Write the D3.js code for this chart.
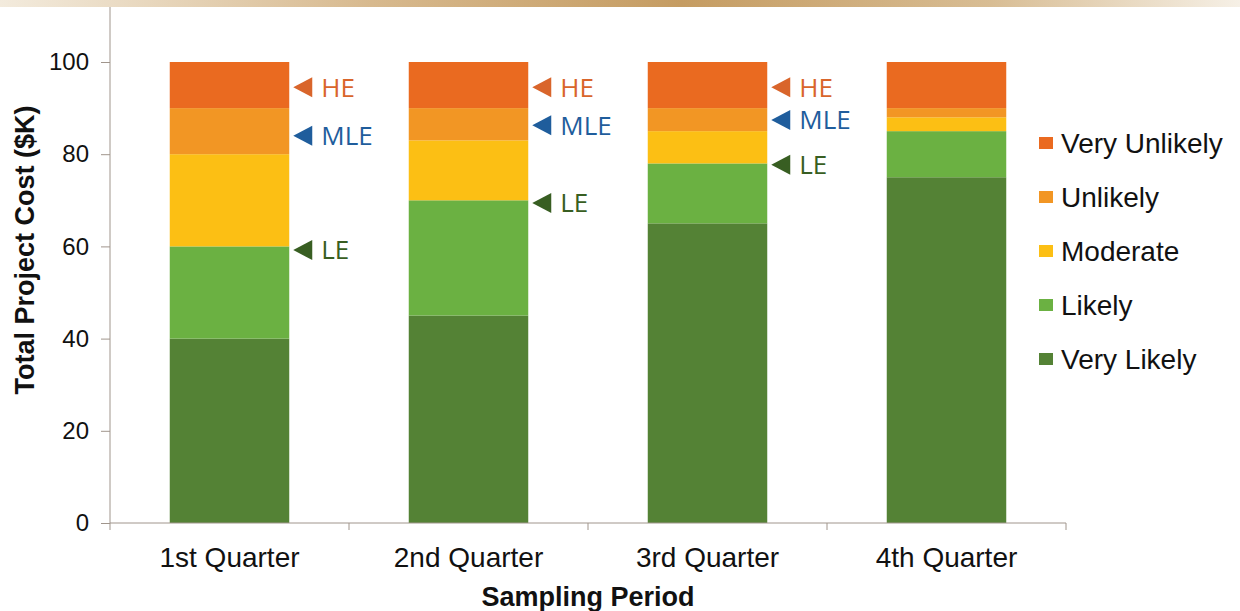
<!DOCTYPE html>
<html>
<head>
<meta charset="utf-8">
<script src="https://cdn.jsdelivr.net/npm/d3@7"></script>
<style>
  body { margin: 0; background: #fff; }
  svg { display: block; font-family: Arial, "Liberation Sans", sans-serif; }
</style>
</head>
<body>
<div id="graph"></div>
<script>
var width = 1240, height = 611

// data
var quarters = ['1st Quarter', '2nd Quarter', '3rd Quarter', '4th Quarter']
var levels = ['Very Likely', 'Likely', 'Moderate', 'Unlikely', 'Very Unlikely']
var veryLikely   = [40, 45, 65, 75]
var likely       = [20, 25, 13, 10]
var moderate     = [20, 13,  7,  3]
var unlikely     = [10,  7,  5,  2]
var veryUnlikely = [10, 10, 10, 10]
var yTicks = [0, 20, 40, 60, 80, 100]

// estimate markers (first three quarters only)
var markerQuarters = ['1st Quarter', '2nd Quarter', '3rd Quarter']
var heVals  = [94.5, 94.5, 94.5]
var mleVals = [84, 86.3, 87.4]
var leVals  = [59.2, 69.4, 77.7]

var colors = {
  'Very Unlikely': '#ea6a20',
  'Unlikely': '#f29624',
  'Moderate': '#fcbf14',
  'Likely': '#6bb142',
  'Very Likely': '#548235'
}
var markerColors = {HE: '#d9652b', MLE: '#1f5d9c', LE: '#385e22'}

var table = quarters.map(function(q, i){
  return {
    q: q,
    'Very Likely': veryLikely[i],
    'Likely': likely[i],
    'Moderate': moderate[i],
    'Unlikely': unlikely[i],
    'Very Unlikely': veryUnlikely[i]
  }
})
var stacked = d3.stack().keys(levels)(table)

var svg = d3.select('#graph').html('').append('svg')
    .attr('width', width).attr('height', height)

// gold strip along the top
var grad = svg.append('defs').append('linearGradient').attr('id', 'gold')
grad.selectAll('stop').data([
  [0, '#f3ebdd'], [0.3, '#d7b98e'], [0.55, '#c59c62'], [0.8, '#d8bd94'], [1, '#f6f0e6']
]).join('stop')
    .attr('offset', function(d){ return d[0] })
    .attr('stop-color', function(d){ return d[1] })
svg.append('rect').attr('width', width).attr('height', 7).attr('fill', 'url(#gold)')

var x = d3.scaleBand().domain(quarters).range([110, 1066])
    .paddingInner(0.5).paddingOuter(0.25)
var y = d3.scaleLinear().domain([0, 100]).range([523, 62])
var axisColor = '#a0958c'

// bars
svg.append('g').selectAll('g').data(stacked).join('g')
    .attr('fill', function(d){ return colors[d.key] })
  .selectAll('rect').data(function(d){ return d }).join('rect')
    .attr('x', function(d){ return x(d.data.q) })
    .attr('width', x.bandwidth())
    .attr('y', function(d){ return y(d[1]) })
    .attr('height', function(d){ return y(d[0]) - y(d[1]) })

// y axis
var yAxis = svg.append('g').attr('transform', 'translate(110,0)')
    .call(d3.axisLeft(y).tickValues(yTicks).tickSize(9).tickPadding(12))
yAxis.select('.domain').remove()
yAxis.append('line').attr('y1', 7).attr('y2', 530).attr('stroke', axisColor)
yAxis.selectAll('.tick line').attr('stroke', axisColor)
yAxis.selectAll('.tick text')
    .attr('font-size', 24).attr('fill', '#111')
    .attr('font-family', 'Arial, "Liberation Sans", sans-serif')

// x axis
var step = x.step()
var xAxis = svg.append('g').attr('transform', 'translate(0,523)')
xAxis.append('line').attr('x1', 110).attr('x2', 1066).attr('stroke', axisColor)
xAxis.selectAll('line.tk').data(quarters).join('line').attr('class', 'tk')
    .attr('x1', function(d){ return x(d) - step * 0.25 + step })
    .attr('x2', function(d){ return x(d) - step * 0.25 + step })
    .attr('y1', 0).attr('y2', 7).attr('stroke', axisColor)
xAxis.selectAll('text').data(quarters).join('text')
    .attr('x', function(d){ return x(d) + x.bandwidth() / 2 })
    .attr('y', 44)
    .attr('text-anchor', 'middle')
    .attr('font-size', 28).attr('fill', '#111')
    .text(function(d){ return d })

// titles
svg.append('text')
    .attr('x', 588).attr('y', 606)
    .attr('text-anchor', 'middle')
    .attr('font-size', 27).attr('font-weight', 'bold').attr('fill', '#111')
    .text('Sampling Period')
svg.append('text')
    .attr('transform', 'translate(34,250) rotate(-90)')
    .attr('text-anchor', 'middle')
    .attr('font-size', 27).attr('font-weight', 'bold').attr('fill', '#111')
    .text('Total Project Cost ($K)')

// estimate markers
var markers = []
markerQuarters.forEach(function(q, i){
  markers.push({q: q, label: 'HE', v: heVals[i]})
  markers.push({q: q, label: 'MLE', v: mleVals[i]})
  markers.push({q: q, label: 'LE', v: leVals[i]})
})
var mk = svg.append('g').selectAll('g').data(markers).join('g')
    .attr('transform', function(d){
      return 'translate(' + (x(d.q) + x.bandwidth() + 4) + ',' + y(d.v) + ')'
    })
    .attr('fill', function(d){ return markerColors[d.label] })
mk.append('path').attr('d', 'M0,0L19,-10L19,10Z')
mk.append('text')
    .attr('x', 28).attr('dy', '0.36em')
    .attr('font-family', '"Open Sans", sans-serif')
    .attr('font-size', 26)
    .text(function(d){ return d.label })

// legend
var legend = svg.append('g').selectAll('g').data(levels.slice().reverse()).join('g')
    .attr('transform', function(d, i){ return 'translate(1039,' + (143 + i * 54) + ')' })
legend.append('rect').attr('x', 0).attr('y', -6).attr('width', 14).attr('height', 12)
    .attr('fill', function(d){ return colors[d] })
legend.append('text')
    .attr('x', 22).attr('dy', '0.36em')
    .attr('font-size', 28).attr('fill', '#111')
    .text(function(d){ return d })
</script>
</body>
</html>
